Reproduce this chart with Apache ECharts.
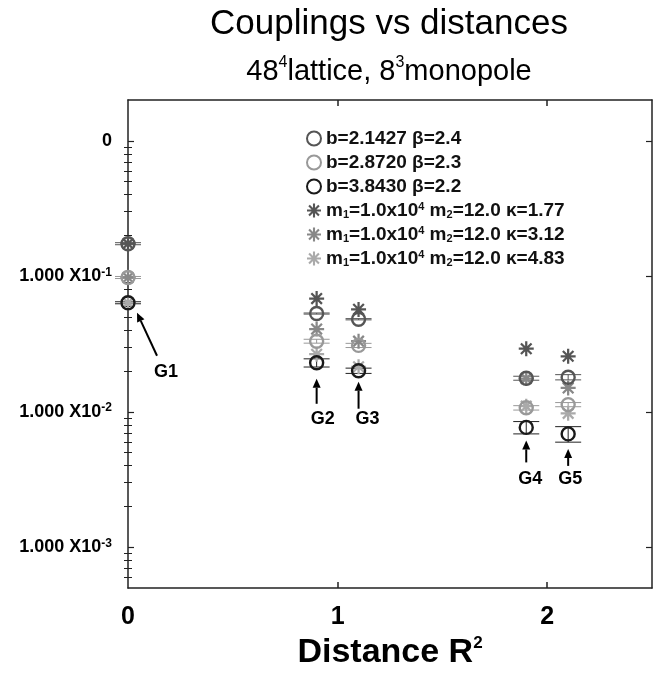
<!DOCTYPE html>
<html>
<head>
<meta charset="utf-8">
<title>Couplings vs distances</title>
<script src="https://cdn.jsdelivr.net/npm/echarts@6/dist/echarts.min.js"></script>
<style>
  html, body { margin: 0; padding: 0; background: #fff; }
  #chart { width: 654px; height: 675px; }
</style>
</head>
<body>
<div id="chart"></div>
<script>
// the five groups G1..G5 and where they sit on the distance axis
const distances = [0, 0.9, 1.1, 1.9, 2.1]
const groupNames = ['G1', 'G2', 'G3', 'G4', 'G5']

// lattice couplings (open circles) and their errors
const b21427 = [0.174, 0.0531, 0.0482, 0.0177, 0.0180]
const b21427Err = [0.003, 0.0005, 0.0005, 0.0006, 0.0008]
const b28720 = [0.098, 0.0332, 0.0309, 0.0107, 0.0113]
const b28720Err = [0.0017, 0.0011, 0.0011, 0.0004, 0.0004]
const b38430 = [0.0638, 0.0230, 0.0201, 0.00767, 0.00687]
const b38430Err = [0.0011, 0.0016, 0.0009, 0.0008, 0.0009]

// model couplings (stars)
const kappa177 = [0.174, 0.0685, 0.0570, 0.0292, 0.0257]
const kappa312 = [0.098, 0.0408, 0.0332, 0.0176, 0.0150]
const kappa483 = [0.0638, 0.0266, 0.0215, 0.0110, 0.00975]

// tick labels
const yTicks = [1e-3, 1e-2, 1e-1, 1]
const yTickExp = ['-3', '-2', '-1', '']
const xTicks = [0, 1, 2]

const FONT = "'Liberation Sans', Arial, Helvetica, sans-serif"

// minor ticks of the log axis: 2..9 x 10^n
const minorTicks = []
for (let e = -4; e <= 0; e++) {
  for (let k = 2; k <= 9; k++) {
    const v = k * Math.pow(10, e)
    if (v > 5e-4 && v < 2) minorTicks.push(v)
  }
}

// asterisk symbol made of 4 bars
function asterisk (r, w) {
  let d = ''
  for (let k = 0; k < 4; k++) {
    const a = k * Math.PI / 4
    const c = Math.cos(a), s = Math.sin(a)
    const px = -s * w / 2, py = c * w / 2
    const pts = [[r * c + px, r * s + py], [r * c - px, r * s - py], [-r * c - px, -r * s - py], [-r * c + px, -r * s + py]]
    d += 'M' + pts.map(p => p[0].toFixed(2) + ' ' + p[1].toFixed(2)).join(' L') + ' Z '
  }
  return 'path://' + d
}
const STAR = asterisk(10, 3)

const pairs = vals => distances.map((x, i) => [x, vals[i]])

function circleSeries (name, vals, color) {
  return {
    name, type: 'scatter', data: pairs(vals), symbol: 'circle', symbolSize: 13, z: 4,
    itemStyle: { color: 'rgba(255,255,255,0)', borderColor: color, borderWidth: 2.4, opacity: 1 },
    emphasis: { disabled: true }
  }
}

function starSeries (name, vals, color) {
  return {
    name, type: 'scatter', data: pairs(vals), symbol: STAR, symbolSize: 15, z: 3,
    itemStyle: { color, opacity: 1 },
    emphasis: { disabled: true }
  }
}

function errorSeries (vals, errs, color) {
  return {
    type: 'custom', silent: true, z: 2,
    data: distances.map((x, i) => [x, vals[i], errs[i]]),
    renderItem: (params, api) => {
      const x = api.value(0), y = api.value(1), e = api.value(2)
      const hi = api.coord([x, y + e]), lo = api.coord([x, y - e])
      const half = 13
      const st = { stroke: color, lineWidth: 1 }
      return {
        type: 'group',
        children: [
          { type: 'line', shape: { x1: hi[0], y1: hi[1], x2: lo[0], y2: lo[1] }, style: st },
          { type: 'line', shape: { x1: hi[0] - half, y1: hi[1], x2: hi[0] + half, y2: hi[1] }, style: st },
          { type: 'line', shape: { x1: lo[0] - half, y1: lo[1], x2: lo[0] + half, y2: lo[1] }, style: st }
        ]
      }
    }
  }
}

// arrows pointing at the lowest point of each group (pixel offsets)
const annoOffsets = [
  { tip: [9, 10], tail: [29, 53], label: [38, 69] },
  { tip: [0, 16], tail: [0, 41], label: [6, 56] },
  { tip: [0, 11], tail: [0, 38], label: [9, 48] },
  { tip: [0, 13], tail: [0, 35], label: [4, 52] },
  { tip: [0, 15], tail: [0, 32], label: [2, 45] }
]

const annotationSeries = {
  type: 'custom', silent: true, z: 6, clip: false,
  data: distances.map((x, i) => [x, b38430[i]]),
  renderItem: (params, api) => {
    const p = api.coord([api.value(0), api.value(1)])
    const o = annoOffsets[params.dataIndex]
    const tip = [p[0] + o.tip[0], p[1] + o.tip[1]]
    const tail = [p[0] + o.tail[0], p[1] + o.tail[1]]
    const dx = tip[0] - tail[0], dy = tip[1] - tail[1]
    const len = Math.sqrt(dx * dx + dy * dy)
    const ux = dx / len, uy = dy / len
    const base = [tip[0] - ux * 9, tip[1] - uy * 9]
    return {
      type: 'group',
      children: [
        { type: 'line', shape: { x1: tail[0], y1: tail[1], x2: base[0], y2: base[1] }, style: { stroke: '#000', lineWidth: 2 } },
        { type: 'polygon', shape: { points: [tip, [base[0] - uy * 4, base[1] + ux * 4], [base[0] + uy * 4, base[1] - ux * 4]] }, style: { fill: '#000' } },
        {
          type: 'text', x: p[0] + o.label[0], y: p[1] + o.label[1],
          style: { text: groupNames[params.dataIndex], font: 'bold 18px ' + FONT, fill: '#000', align: 'center', verticalAlign: 'middle' }
        }
      ]
    }
  }
}

const legendRich = {
  '1.77': '{t|m}{sub|1}{t|=1.0x10}{sup|4}{t| m}{sub|2}{t|=12.0 κ=1.77}',
  '3.12': '{t|m}{sub|1}{t|=1.0x10}{sup|4}{t| m}{sub|2}{t|=12.0 κ=3.12}',
  '4.83': '{t|m}{sub|1}{t|=1.0x10}{sup|4}{t| m}{sub|2}{t|=12.0 κ=4.83}'
}
const starNames = ['m1=1.0x10^4 m2=12.0 κ=1.77', 'm1=1.0x10^4 m2=12.0 κ=3.12', 'm1=1.0x10^4 m2=12.0 κ=4.83']
const circleNames = ['b=2.1427 β=2.4', 'b=2.8720 β=2.3', 'b=3.8430 β=2.2']

const yAxisBase = {
  type: 'log', logBase: 10, min: 5e-4, max: 2,
  splitLine: { show: false },
  axisLabel: { show: false }
}
const axisLineStyle = { show: true, onZero: false, lineStyle: { color: '#222', width: 1.5 } }

const myChart = echarts.init(document.getElementById('chart'))

const option = {
  animation: false,
  backgroundColor: '#fff',
  title: [
    {
      text: 'Couplings vs distances', left: 384, top: 2, textAlign: 'center',
      textStyle: { fontFamily: FONT, fontSize: 35, fontWeight: 'normal', color: '#000' }
    },
    {
      text: '{n|48}{sup|4}{n|lattice, 8}{sup|3}{n|monopole}', left: 384, top: 50, textAlign: 'center',
      textStyle: {
        fontWeight: 'normal',
        rich: {
          n: { fontFamily: FONT, fontSize: 29, fontWeight: 'normal', color: '#000', lineHeight: 34 },
          sup: { fontFamily: FONT, fontSize: 16, fontWeight: 'normal', color: '#000', lineHeight: 16, verticalAlign: 'top' }
        }
      }
    }
  ],
  legend: {
    data: circleNames.concat(starNames),
    orient: 'vertical', left: 306, top: 129, padding: 0,
    itemWidth: 14, itemHeight: 14, itemGap: 5,
    selectedMode: false,
    formatter: name => {
      const k = name.slice(-4)
      return legendRich[k] || '{t|' + name + '}'
    },
    textStyle: {
      rich: {
        t: { fontFamily: FONT, fontSize: 19, fontWeight: 'bold', color: '#111', lineHeight: 19 },
        sup: { fontFamily: FONT, fontSize: 11, fontWeight: 'bold', color: '#111', lineHeight: 9, verticalAlign: 'top' },
        sub: { fontFamily: FONT, fontSize: 11, fontWeight: 'bold', color: '#111', lineHeight: 9, verticalAlign: 'bottom' }
      }
    }
  },
  grid: { left: 128, right: 2, top: 100, bottom: 80 },
  xAxis: [
    {
      type: 'value', min: 0, max: 2.5, position: 'bottom',
      splitLine: { show: false },
      axisLine: axisLineStyle,
      axisTick: { inside: true, length: 6, customValues: [1, 2], lineStyle: { color: '#222', width: 1.5 } },
      axisLabel: {
        customValues: xTicks, margin: 17,
        fontFamily: FONT, fontSize: 25, fontWeight: 'bold', color: '#000'
      },
      name: '{t|Distance R}{sup|2}', nameLocation: 'middle', nameGap: 46,
      nameTextStyle: {
        rich: {
          t: { fontFamily: FONT, fontSize: 34, fontWeight: 'bold', color: '#000', lineHeight: 36 },
          sup: { fontFamily: FONT, fontSize: 17, fontWeight: 'bold', color: '#000', lineHeight: 16, verticalAlign: 'top' }
        }
      }
    },
    {
      type: 'value', min: 0, max: 2.5, position: 'top',
      splitLine: { show: false },
      axisLine: axisLineStyle,
      axisTick: { inside: true, length: 6, customValues: [1, 2], lineStyle: { color: '#222', width: 1.5 } },
      axisLabel: { show: false }
    }
  ],
  yAxis: [
    Object.assign({}, yAxisBase, {
      position: 'left',
      axisLine: axisLineStyle,
      axisTick: { inside: true, length: 6, customValues: yTicks, lineStyle: { color: '#222', width: 1.2 } },
      axisLabel: {
        show: true, customValues: yTicks, margin: 16,
        formatter: v => {
          const i = yTicks.findIndex(t => Math.abs(t - v) / t < 1e-6)
          if (i < 0) return ''
          return yTickExp[i] ? '{t|1.000 X10}{sup|' + yTickExp[i] + '}' : '{t|0}'
        },
        rich: {
          t: { fontFamily: FONT, fontSize: 18, fontWeight: 'bold', color: '#000', lineHeight: 20 },
          sup: { fontFamily: FONT, fontSize: 12, fontWeight: 'bold', color: '#000', lineHeight: 12, verticalAlign: 'top' }
        }
      }
    }),
    Object.assign({}, yAxisBase, {
      position: 'left',
      axisLine: { show: false },
      axisTick: { inside: true, length: 4, customValues: minorTicks, lineStyle: { color: '#222', width: 1 } }
    }),
    Object.assign({}, yAxisBase, {
      position: 'right',
      axisLine: axisLineStyle,
      axisTick: { inside: true, length: 6, customValues: yTicks, lineStyle: { color: '#222', width: 1.2 } }
    }),
    Object.assign({}, yAxisBase, {
      position: 'right',
      axisLine: { show: false },
      axisTick: { inside: true, length: 4, customValues: minorTicks, lineStyle: { color: '#222', width: 1 } }
    })
  ],
  series: [
    errorSeries(b21427, b21427Err, '#555'),
    errorSeries(b28720, b28720Err, '#999'),
    errorSeries(b38430, b38430Err, '#222'),
    starSeries(starNames[0], kappa177, '#555'),
    starSeries(starNames[1], kappa312, '#888'),
    starSeries(starNames[2], kappa483, '#aaa'),
    circleSeries(circleNames[0], b21427, '#555'),
    circleSeries(circleNames[1], b28720, '#999'),
    circleSeries(circleNames[2], b38430, '#1a1a1a'),
    annotationSeries
  ]
}

myChart.setOption(option)
</script>
</body>
</html>
